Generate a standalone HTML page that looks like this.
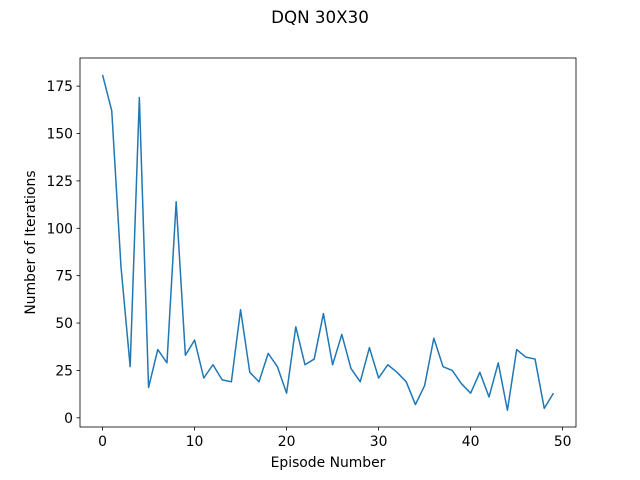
<!DOCTYPE html>
<html><head><meta charset="utf-8"><style>body{margin:0;background:#fff}svg{display:block;font-family:"DejaVu Sans","Liberation Sans",sans-serif}</style></head>
<body>
<svg id="chart" width="640" height="480" xmlns="http://www.w3.org/2000/svg">
<rect width="640" height="480" fill="#fff"/>
<text x="320" y="23" text-anchor="middle" font-size="16.7">DQN 30X30</text>
<g id="axes"></g>
</svg>
<script>
const episodes = [];
for (let i = 0; i < 50; i++) episodes.push(i);
const iterations = [181,162,80,27,169,16,36,29,114,33,41,21,28,20,19,57,24,19,34,27,13,48,28,31,55,28,44,26,19,37,21,28,24,19,7,17,42,27,25,18,13,24,11,29,4,36,32,31,5,13];
const xTicks = [0,10,20,30,40,50];
const yTicks = [0,25,50,75,100,125,150,175];

const L=80,R=576,T=58,B=427;
const xmin=-2.45,xmax=51.45,ymin=-4.85,ymax=189.85;
const sx=v=>L+(v-xmin)/(xmax-xmin)*(R-L);
const sy=v=>B-(v-ymin)/(ymax-ymin)*(B-T);
const NS="http://www.w3.org/2000/svg";
const g=document.getElementById('axes');
function mk(tag,attrs,parent){const e=document.createElementNS(NS,tag);for(const k in attrs)e.setAttribute(k,attrs[k]);(parent||g).appendChild(e);return e;}

const pts=episodes.map((x,i)=>sx(x).toFixed(2)+','+sy(iterations[i]).toFixed(2)).join(' ');
const line=mk('polyline',{points:pts,fill:'none',stroke:'#1f77b4','stroke-width':1.5,'stroke-linejoin':'round'});



const frame=mk('rect',{x:L,y:T,width:R-L,height:B-T,fill:'none',stroke:'#000','stroke-width':0.8});



xTicks.forEach(t=>{
  const x=sx(t);
  mk('line',{x1:x,x2:x,y1:B,y2:B+3.5,stroke:'#000','stroke-width':0.8});
  const tx=mk('text',{x:x,y:B+19,'text-anchor':'middle','font-size':13.9});
  tx.textContent=t;
  
  
});
yTicks.forEach(t=>{
  const y=sy(t);
  mk('line',{x1:L-3.5,x2:L,y1:y,y2:y,stroke:'#000','stroke-width':0.8});
  const tx=mk('text',{x:L-7,y:y+5,'text-anchor':'end','font-size':13.9});
  tx.textContent=t;
  
  
});
const xl=mk('text',{x:(L+R)/2,y:467,'text-anchor':'middle','font-size':13.9});
xl.textContent='Episode Number';


const yl=mk('text',{x:0,y:0,'text-anchor':'middle','font-size':13.9,transform:`translate(35,${(T+B)/2}) rotate(-90)`});
yl.textContent='Number of Iterations';


</script>
</body></html>
